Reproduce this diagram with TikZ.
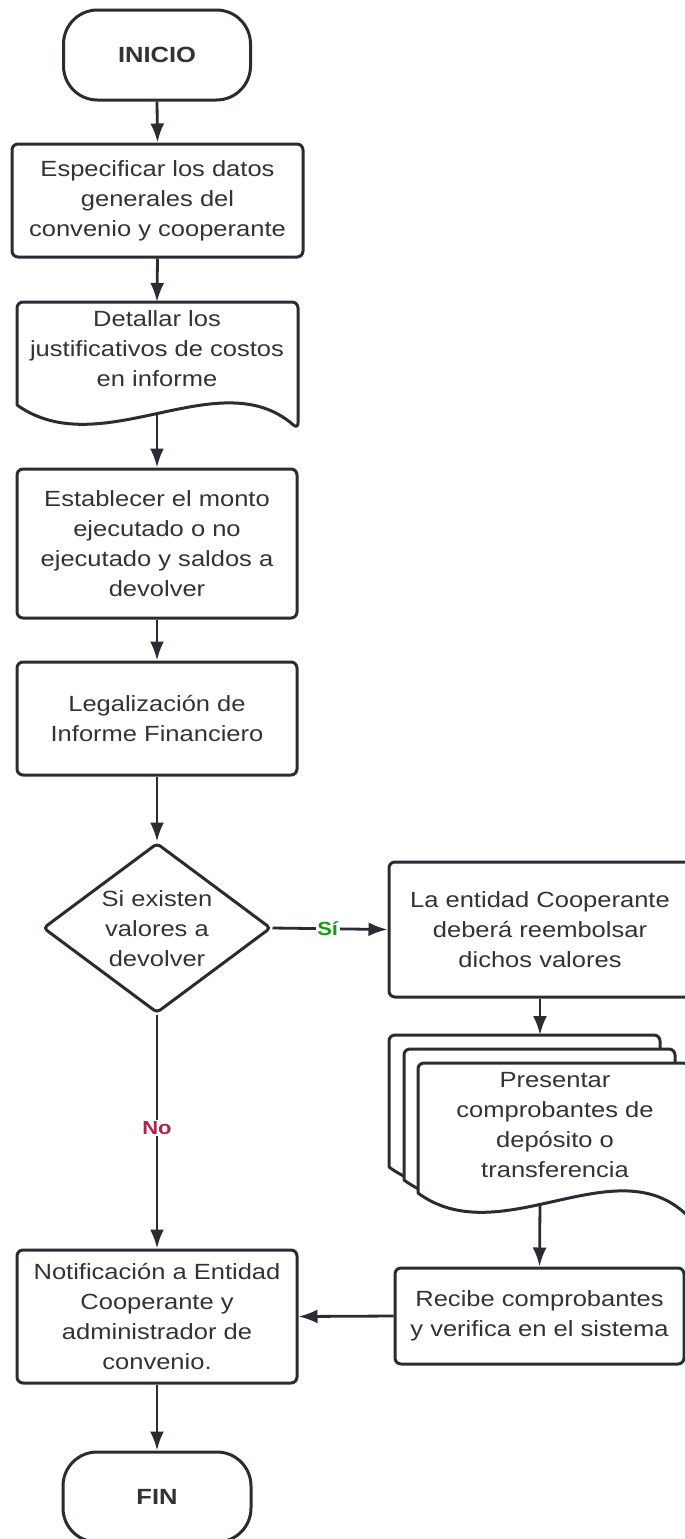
\documentclass[tikz,border=0pt]{standalone}
\usepackage{fontspec}
\setmainfont{Liberation Sans}[FakeStretch=1.16]
\usetikzlibrary{arrows.meta,shapes.geometric}
\definecolor{ln}{HTML}{282C33}
\definecolor{tx}{HTML}{333333}
\definecolor{yescol}{HTML}{1A9A1A}
\definecolor{nocol}{HTML}{B0224A}
\newcommand\docshape[4]{%
  \draw[docst] (#1,{#2+#4}) [rounded corners=6pt] -- (#1,#2) -- ({#1+#3},#2) -- ({#1+#3},{#2+#4+24}) [sharp corners]
    .. controls ({#1+0.72*#3},{#2+#4-45}) and ({#1+0.3*#3},{#2+#4+60}) .. (#1,{#2+#4}) -- cycle;}
\begin{document}
\begin{tikzpicture}[x=1pt,y=-1pt,
  txt/.style={text=tx, align=center, inner sep=0pt, font=\fontsize{22}{30}\selectfont},
  box/.style={txt, draw=ln, line width=3pt, rounded corners=6pt, fill=white},
  term/.style={box, rounded corners=34pt, font=\fontsize{22}{30}\selectfont\bfseries},
  docst/.style={draw=ln, line width=3pt, fill=white, line join=round},
  conn/.style={draw=ln, line width=2.8pt, -{Latex[length=19pt,width=14pt]}},
  lab/.style={fill=white, inner sep=1.5pt, font=\fontsize{19}{22}\selectfont\bfseries}
]
\useasboundingbox (0,0) rectangle (685,1539);
\fill[white] (0,0) rectangle (685,1539);
\clip (0,0) rectangle (685,1539);

% nodes
\node[term, minimum width=187pt, minimum height=90pt] (ini) at (157,55) {INICIO};
\node[box, minimum width=291pt, minimum height=113pt] (b1) at (157.5,200.5) {Especificar los datos\\generales del\\convenio y cooperante};

\docshape{17}{302}{281}{103}
\node[txt] (doc1) at (157,349) {Detallar los\\justificativos de costos\\en informe};
\coordinate (d1top) at (157,302);
\coordinate (d1bot) at (157,412);

\node[box, minimum width=280pt, minimum height=149pt] (b3) at (157,543.5) {Establecer el monto\\ejecutado o no\\ejecutado y saldos a\\devolver};
\node[box, minimum width=280pt, minimum height=113pt] (b4) at (157,718.5) {Legalización de\\Informe Financiero};

\node[diamond, draw=ln, line width=3pt, rounded corners=4pt, inner sep=0pt, minimum width=228pt, minimum height=170pt] (dia) at (157,928) {};
\node[txt] (diat) at (157,929) {Si existen\\valores a\\devolver};

\node[box, minimum width=302pt, minimum height=135pt] (b5) at (540,929.5) {La entidad Cooperante\\deberá reembolsar\\dichos valores};

\docshape{389}{1035}{271}{132}
\docshape{404}{1049}{271}{131}
\docshape{418}{1063}{271}{130}
\node[txt] (doc2) at (555,1125) {Presentar\\comprobantes de\\depósito o\\transferencia};
\coordinate (d2top) at (540,1035);
\coordinate (d2bot) at (540,1203);

\node[box, minimum width=289pt, minimum height=96pt] (b6) at (539.5,1316) {Recibe comprobantes\\y verifica en el sistema};
\node[box, minimum width=280pt, minimum height=133pt] (b7) at (157,1316.5) {Notificación a Entidad\\Cooperante y\\administrador de\\convenio.};
\node[term, minimum width=188pt, minimum height=90pt] (fin) at (157,1497) {FIN};

% connectors
\draw[conn] (ini.south) -- (b1.north);
\draw[conn] (b1.south) -- (d1top);
\draw[conn] (d1bot) -- (b3.north);
\draw[conn] (b3.south) -- (b4.north);
\draw[conn] (b4.south) -- (dia.north);
\draw[conn] (dia.east) -- node[lab, text=yescol, pos=0.48] (si) {Sí} (b5.west);
\draw[conn] (dia.south) -- node[lab, text=nocol, pos=0.485] (no) {No} (b7.north);
\draw[conn] (b5.south) -- (d2top);
\draw[conn] (d2bot) -- (b6.north);
\draw[conn] (b6.west) -- (b7.east);
\draw[conn] (b7.south) -- (fin.north);
\end{tikzpicture}
\end{document}
